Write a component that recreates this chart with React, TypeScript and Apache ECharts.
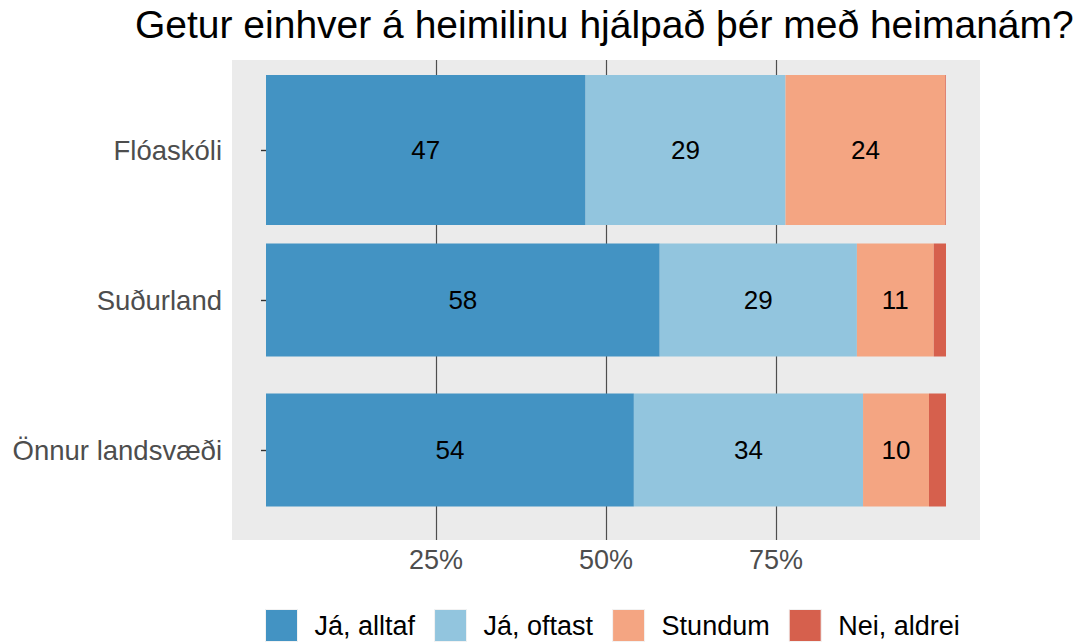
import React, { useEffect, useRef } from 'react';
import * as echarts from 'echarts';

const categories = ['Flóaskóli', 'Suðurland', 'Önnur landsvæði'];
const responses = ['Já, alltaf', 'Já, oftast', 'Stundum', 'Nei, aldrei'];
const colors = ['#4393C3', '#92C5DE', '#F4A582', '#D6604D'];
const jaAlltaf = [47.0, 57.9, 54.1];
const jaOftast = [29.4, 29.0, 33.7];
const stundum = [23.5, 11.3, 9.7];
const neiAldrei = [0.1, 1.8, 2.5];
const tickValues = [25, 50, 75];
const wideCategory = 'Flóaskóli';

const FONT = '"Liberation Sans", Arial, Helvetica, sans-serif';

export default function App() {
  const ref = useRef<HTMLDivElement>(null);
  useEffect(() => {
    if (!ref.current) return;
    const chart = echarts.init(ref.current, null, { renderer: 'svg' });
    const values = [jaAlltaf, jaOftast, stundum, neiAldrei];
    const series: any[] = [];
    [false, true].forEach((wide) => {
      responses.forEach((name, i) => {
        series.push({
          type: 'bar',
          name,
          stack: wide ? 'wide' : 'narrow',
          xAxisIndex: 1,
          yAxisIndex: wide ? 2 : 1,
          barWidth: wide ? 150 : 113,
          data: values[i].map((v, j) => ((categories[j] === wideCategory) === wide ? v : '-')),
          itemStyle: { color: colors[i] },
          label: {
            show: true,
            position: 'inside',
            color: '#000',
            fontSize: 26,
            fontFamily: FONT,
            formatter: (p: any) => (p.value >= 5 ? String(Math.round(p.value)) : ''),
          },
        });
      });
    });
    chart.setOption({
      animation: false,
      title: {
        text: 'Getur einhver á heimilinu hjálpað þér með heimanám?',
        left: 135,
        top: 5,
        padding: 0,
        textStyle: { fontSize: 39, fontWeight: 'normal', color: '#000', fontFamily: FONT },
      },
      legend: {
        data: responses,
        left: 265,
        top: 609,
        itemWidth: 32,
        itemHeight: 32,
        itemGap: 19,
        icon: 'rect',
        padding: 0,
        itemStyle: { borderColor: '#F2F2F2', borderWidth: 1 },
        textStyle: { fontSize: 27, color: '#000', fontFamily: FONT, padding: [0, 0, 0, 12] },
      },
      grid: [
        { left: 232, right: 105, top: 60, bottom: 103, show: true, backgroundColor: '#EBEBEB', borderWidth: 0 },
        { left: 232, right: 105, top: 75, bottom: 118 },
      ],
      xAxis: [
        {
          gridIndex: 0,
          type: 'value',
          min: -5,
          max: 105,
          axisLine: { show: false },
          axisTick: { show: false, customValues: tickValues },
          axisLabel: {
            customValues: tickValues,
            formatter: '{value}%',
            fontSize: 27,
            color: '#4D4D4D',
            fontFamily: FONT,
            margin: 6,
          },
          splitLine: { show: true, lineStyle: { color: '#4D4D4D', width: 1.2 } },
        },
        { gridIndex: 1, type: 'value', min: -5, max: 105, show: false },
      ],
      yAxis: [
        { gridIndex: 0, type: 'value', min: 0, max: 1, show: false },
        {
          gridIndex: 1,
          type: 'category',
          data: categories,
          inverse: true,
          axisLine: { show: false },
          axisTick: { show: true, alignWithLabel: true, length: 5, lineStyle: { color: '#333', width: 1.4 } },
          axisLabel: { fontSize: 27.5, color: '#4D4D4D', fontFamily: FONT, margin: 10 },
          splitLine: { show: false },
        },
        { gridIndex: 1, type: 'category', data: categories, inverse: true, show: false },
      ],
      series,
    });
    return () => chart.dispose();
  }, []);
  return (
    <div
      ref={ref}
      style={{ position: 'fixed', left: 0, top: 0, width: 1085, height: 643, background: '#fff' }}
    />
  );
}
